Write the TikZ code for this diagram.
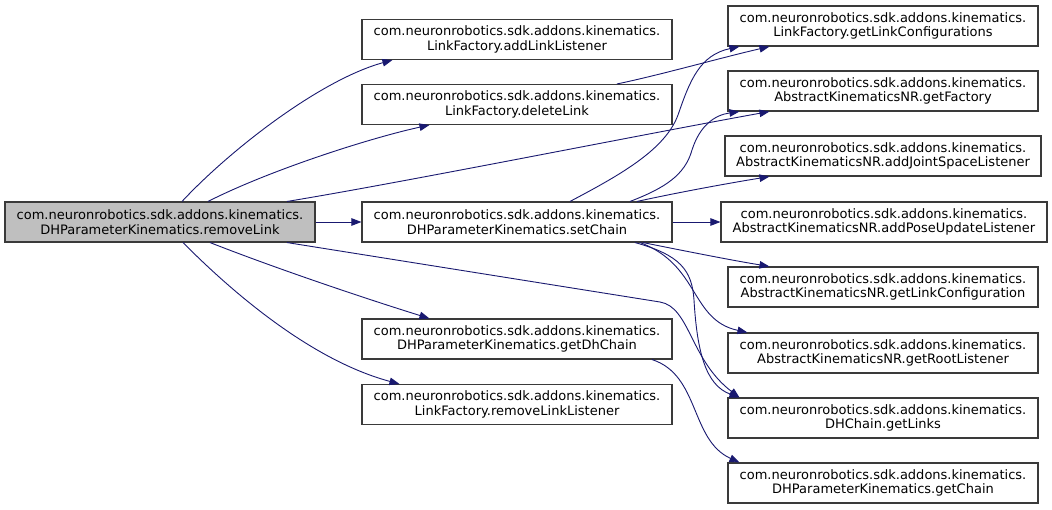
\documentclass[tikz,border=0pt]{standalone}
\usepackage{fontspec}
\setmainfont{DejaVu Sans}
\usetikzlibrary{arrows.meta}
\definecolor{edgecol}{HTML}{191970}
\definecolor{rootfill}{HTML}{BFBFBF}
\definecolor{boxline}{HTML}{3A3A3A}
\begin{document}
\begin{tikzpicture}[x=1pt,y=-1pt,
  fn/.style={draw=boxline, line width=1.1pt, fill=white, rectangle,
    minimum width=310pt, minimum height=40pt, inner sep=0pt, align=center,
    font=\fontsize{13}{14.5}\selectfont},
  rootfn/.style={fn, fill=rootfill},
  edge/.style={draw=edgecol, line width=0.9pt,
    -{Triangle[length=10pt,width=7.5pt]}}]
\fill[white] (0,0) rectangle (1052,509);
\useasboundingbox (0,0) rectangle (1052,509);

% root
\node[rootfn] (root) at (160,222) {com.neuronrobotics.sdk.addons.kinematics.\\DHParameterKinematics.removeLink};

% column 2
\node[fn] (addLL) at (517,39.5) {com.neuronrobotics.sdk.addons.kinematics.\\LinkFactory.addLinkListener};
\node[fn] (delL) at (517,104.5) {com.neuronrobotics.sdk.addons.kinematics.\\LinkFactory.deleteLink};
\node[fn] (setC) at (517,222) {com.neuronrobotics.sdk.addons.kinematics.\\DHParameterKinematics.setChain};
\node[fn] (getDh) at (517,339) {com.neuronrobotics.sdk.addons.kinematics.\\DHParameterKinematics.getDhChain};
\node[fn] (remLL) at (517,404.5) {com.neuronrobotics.sdk.addons.kinematics.\\LinkFactory.removeLinkListener};

% column 3
\node[fn] (gLCs) at (883,26) {com.neuronrobotics.sdk.addons.kinematics.\\LinkFactory.getLinkConfigurations};
\node[fn] (gFac) at (883,91) {com.neuronrobotics.sdk.addons.kinematics.\\AbstractKinematicsNR.getFactory};
\node[fn, minimum width=316pt] (aJSL) at (883,156) {com.neuronrobotics.sdk.addons.kinematics.\\AbstractKinematicsNR.addJointSpaceListener};
\node[fn, minimum width=326pt] (aPUL) at (884,222) {com.neuronrobotics.sdk.addons.kinematics.\\AbstractKinematicsNR.addPoseUpdateListener};
\node[fn] (gLC) at (883,287) {com.neuronrobotics.sdk.addons.kinematics.\\AbstractKinematicsNR.getLinkConfiguration};
\node[fn] (gRL) at (883,353) {com.neuronrobotics.sdk.addons.kinematics.\\AbstractKinematicsNR.getRootListener};
\node[fn] (gLinks) at (883,418) {com.neuronrobotics.sdk.addons.kinematics.\\DHChain.getLinks};
\node[fn] (gChain) at (883,483) {com.neuronrobotics.sdk.addons.kinematics.\\DHParameterKinematics.getChain};

% edges from root
\draw[edge] ([xshift=22pt]root.north) .. controls (230,150) and (320,80) .. ([xshift=31pt]addLL.south west);
\draw[edge] ([xshift=48pt]root.north) .. controls (270,170) and (370,138) .. ([xshift=68pt]delL.south west);
\draw[edge] ([xshift=127pt]root.north) .. controls (400,183) and (650,133) .. ([xshift=42pt]gFac.south west);
\draw[edge] (root.east) -- (setC.west);
\draw[edge] ([xshift=50pt]root.south) .. controls (280,270) and (370,300) .. ([xshift=68pt]getDh.north west);
\draw[edge] ([xshift=23pt]root.south) .. controls (230,290) and (310,360) .. ([xshift=38pt]remLL.north west);
\draw[edge] ([xshift=127pt]root.south) -- (660,302) .. controls (690,307) and (690,360) .. ([xshift=12pt]gLinks.north west);

% edge from deleteLink
\draw[edge] ([xshift=100pt]delL.north) .. controls (660,75) and (720,58) .. ([xshift=42pt]gLCs.south west);

% edges from setChain
\draw[edge] ([xshift=53pt]setC.north) .. controls (620,175) and (665,150) .. (678,115)
  .. controls (690,80) and (700,55) .. ([xshift=12pt]gLCs.south west);
\draw[edge] ([xshift=113pt]setC.north) .. controls (665,188) and (685,175) .. (692,150)
  .. controls (700,125) and (715,115) .. ([xshift=12pt]gFac.south west);
\draw[edge] ([xshift=120pt]setC.north) .. controls (680,192) and (730,183) .. ([xshift=45pt]aJSL.south west);
\draw[edge] (setC.east) -- (aPUL.west);
\draw[edge] ([xshift=126pt]setC.south) .. controls (680,250) and (730,260) .. ([xshift=42pt]gLC.north west);
\draw[edge] ([xshift=123pt]setC.south) .. controls (700,265) and (690,320) .. ([xshift=20pt]gRL.north west);
\draw[edge] ([xshift=118pt]setC.south) .. controls (680,255) and (692,270) .. (694,300)
  .. controls (697,350) and (705,385) .. ([xshift=12pt]gLinks.north west);

% edge from getDhChain
\draw[edge] ([xshift=135pt]getDh.south) .. controls (700,375) and (690,440) .. ([xshift=12pt]gChain.north west);
\end{tikzpicture}
\end{document}
